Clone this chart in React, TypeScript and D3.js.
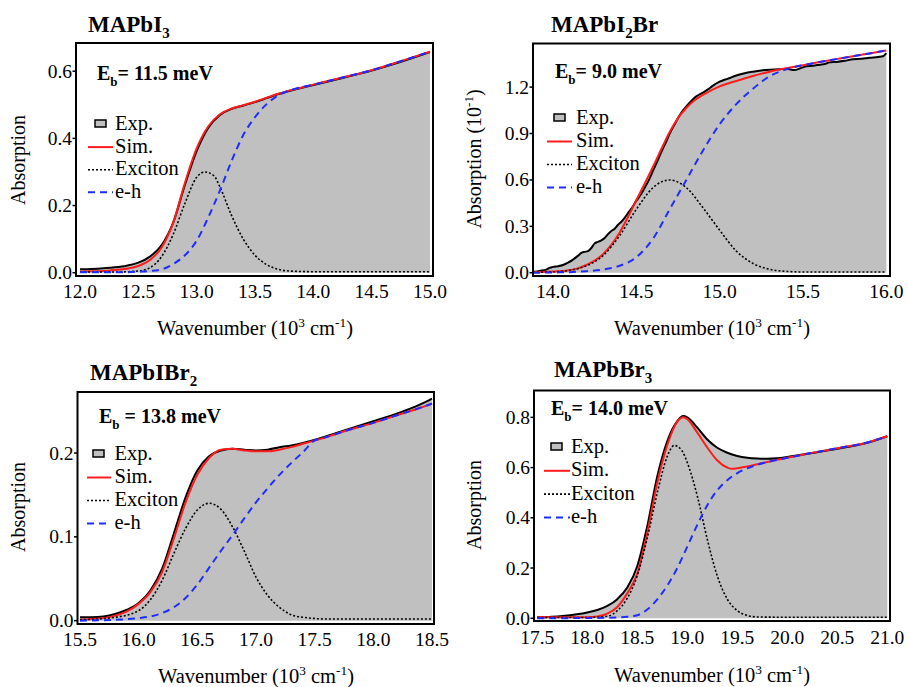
import React from "react";
import * as d3 from "d3";

type Pt = [number, number];

// ---- MAPbI3 ----
const mapbi3Exp: Pt[] = [[12.0,0.010],[12.1,0.011],[12.2,0.013],[12.3,0.016],[12.4,0.021],[12.5,0.030],[12.6,0.048],[12.7,0.082],[12.8,0.150],[12.9,0.262],[13.0,0.362],[13.1,0.432],[13.2,0.470],[13.3,0.488],[13.4,0.498],[13.5,0.508],[13.6,0.520],[13.7,0.532],[13.8,0.542],[14.0,0.559],[14.25,0.580],[14.5,0.602],[14.75,0.628],[15.0,0.657]];
const mapbi3Sim: Pt[] = [[12.0,0.003],[12.1,0.004],[12.2,0.005],[12.3,0.008],[12.4,0.012],[12.5,0.020],[12.6,0.038],[12.7,0.075],[12.8,0.150],[12.9,0.268],[13.0,0.370],[13.1,0.436],[13.2,0.472],[13.3,0.489],[13.4,0.499],[13.5,0.509],[13.6,0.521],[13.7,0.533],[13.8,0.543],[14.0,0.560],[14.25,0.581],[14.5,0.603],[14.75,0.630],[15.0,0.658]];
const mapbi3Exciton: Pt[] = [[12.0,0.002],[12.3,0.002],[12.5,0.005],[12.6,0.015],[12.7,0.048],[12.8,0.115],[12.9,0.207],[13.0,0.284],[13.07,0.300],[13.15,0.288],[13.2,0.255],[13.3,0.170],[13.4,0.100],[13.5,0.052],[13.6,0.024],[13.7,0.010],[13.8,0.005],[14.0,0.003],[15.0,0.003]];
const mapbi3Eh: Pt[] = [[12.0,0.001],[12.3,0.001],[12.5,0.003],[12.6,0.005],[12.7,0.010],[12.8,0.026],[12.9,0.052],[13.0,0.095],[13.1,0.165],[13.2,0.245],[13.3,0.333],[13.4,0.410],[13.5,0.463],[13.6,0.502],[13.7,0.528],[13.8,0.543],[14.0,0.560],[14.25,0.581],[14.5,0.603],[14.75,0.630],[15.0,0.658]];

// ---- MAPbI2Br (10^-1) ----
const mapbi2brExp: Pt[] = [[13.88,0.005],[13.92,0.012],[13.96,0.020],[13.98,0.032],[14.0,0.038],[14.03,0.042],[14.06,0.050],[14.09,0.065],[14.12,0.085],[14.15,0.110],[14.17,0.128],[14.19,0.135],[14.21,0.140],[14.23,0.160],[14.25,0.190],[14.27,0.200],[14.29,0.210],[14.31,0.225],[14.33,0.250],[14.35,0.270],[14.37,0.285],[14.39,0.310],[14.41,0.330],[14.43,0.355],[14.45,0.385],[14.48,0.430],[14.5,0.465],[14.53,0.510],[14.55,0.550],[14.58,0.610],[14.6,0.660],[14.63,0.730],[14.65,0.780],[14.68,0.850],[14.7,0.900],[14.73,0.960],[14.75,1.000],[14.78,1.050],[14.8,1.075],[14.83,1.110],[14.86,1.140],[14.9,1.165],[14.93,1.185],[14.96,1.210],[15.0,1.235],[15.05,1.255],[15.1,1.275],[15.15,1.290],[15.2,1.300],[15.25,1.308],[15.3,1.313],[15.35,1.315],[15.4,1.318],[15.45,1.310],[15.48,1.320],[15.52,1.335],[15.56,1.338],[15.6,1.345],[15.63,1.350],[15.66,1.360],[15.7,1.363],[15.75,1.370],[15.8,1.380],[15.85,1.383],[15.9,1.390],[15.95,1.395],[15.98,1.400],[16.0,1.420]];
const mapbi2brSim: Pt[] = [[13.88,0.005],[14.0,0.008],[14.1,0.016],[14.15,0.028],[14.2,0.050],[14.25,0.078],[14.3,0.120],[14.35,0.180],[14.4,0.260],[14.45,0.360],[14.5,0.470],[14.55,0.575],[14.6,0.685],[14.65,0.800],[14.7,0.910],[14.75,1.000],[14.8,1.065],[14.85,1.115],[14.9,1.150],[15.0,1.205],[15.1,1.240],[15.2,1.272],[15.3,1.300],[15.4,1.322],[15.5,1.342],[15.6,1.362],[15.7,1.381],[15.8,1.400],[15.9,1.418],[16.0,1.437]];
const mapbi2brExciton: Pt[] = [[13.88,0.003],[14.0,0.006],[14.1,0.016],[14.2,0.045],[14.3,0.110],[14.4,0.240],[14.5,0.410],[14.6,0.550],[14.7,0.600],[14.8,0.550],[14.9,0.420],[15.0,0.275],[15.1,0.140],[15.2,0.060],[15.3,0.022],[15.4,0.009],[15.5,0.005],[16.0,0.005]];
const mapbi2brEh: Pt[] = [[13.88,0.0],[14.0,0.002],[14.1,0.004],[14.2,0.010],[14.3,0.020],[14.4,0.045],[14.5,0.100],[14.6,0.220],[14.7,0.410],[14.8,0.600],[14.9,0.790],[15.0,0.960],[15.1,1.090],[15.2,1.190],[15.3,1.270],[15.4,1.315],[15.5,1.342],[15.6,1.362],[15.7,1.381],[15.8,1.400],[15.9,1.418],[16.0,1.437]];

// ---- MAPbIBr2 ----
const mapbibr2Exp: Pt[] = [[15.5,0.004],[15.6,0.004],[15.7,0.005],[15.8,0.008],[15.9,0.013],[16.0,0.021],[16.1,0.036],[16.2,0.062],[16.3,0.104],[16.4,0.147],[16.5,0.179],[16.6,0.196],[16.7,0.203],[16.8,0.205],[16.9,0.204],[17.0,0.203],[17.1,0.204],[17.2,0.207],[17.3,0.209],[17.4,0.212],[17.6,0.220],[17.8,0.229],[18.0,0.238],[18.2,0.247],[18.4,0.258],[18.5,0.265]];
const mapbibr2Sim: Pt[] = [[15.5,0.001],[15.6,0.002],[15.7,0.003],[15.8,0.006],[15.9,0.011],[16.0,0.020],[16.1,0.034],[16.2,0.058],[16.3,0.098],[16.4,0.141],[16.5,0.174],[16.6,0.194],[16.7,0.204],[16.8,0.205],[16.9,0.203],[17.0,0.202],[17.1,0.202],[17.2,0.204],[17.3,0.207],[17.4,0.211],[17.6,0.219],[17.8,0.228],[18.0,0.236],[18.2,0.245],[18.4,0.254],[18.5,0.259]];
const mapbibr2Exciton: Pt[] = [[15.5,0.001],[15.8,0.004],[16.0,0.012],[16.1,0.025],[16.2,0.048],[16.3,0.080],[16.4,0.110],[16.5,0.132],[16.6,0.140],[16.7,0.133],[16.8,0.112],[16.9,0.083],[17.0,0.052],[17.1,0.030],[17.2,0.016],[17.3,0.007],[17.4,0.004],[17.6,0.002],[18.5,0.002]];
const mapbibr2Eh: Pt[] = [[15.5,0.0],[15.8,0.001],[16.0,0.003],[16.1,0.005],[16.2,0.009],[16.3,0.016],[16.4,0.027],[16.5,0.043],[16.6,0.063],[16.7,0.083],[16.8,0.102],[16.9,0.122],[17.0,0.141],[17.1,0.158],[17.2,0.174],[17.3,0.188],[17.4,0.201],[17.5,0.215],[17.6,0.219],[17.8,0.228],[18.0,0.236],[18.2,0.245],[18.4,0.254],[18.5,0.259]];

// ---- MAPbBr3 ----
const mapbbr3Exp: Pt[] = [[17.5,0.003],[17.75,0.009],[18.0,0.023],[18.1,0.033],[18.2,0.049],[18.3,0.076],[18.4,0.122],[18.5,0.208],[18.6,0.367],[18.7,0.566],[18.8,0.706],[18.9,0.785],[18.96,0.805],[19.0,0.800],[19.1,0.759],[19.2,0.712],[19.3,0.679],[19.4,0.659],[19.5,0.646],[19.6,0.639],[19.7,0.636],[19.8,0.635],[19.9,0.637],[20.0,0.642],[20.2,0.655],[20.5,0.675],[20.8,0.699],[21.0,0.725]];
const mapbbr3Sim: Pt[] = [[17.5,0.005],[17.75,0.004],[18.0,0.004],[18.1,0.007],[18.2,0.018],[18.3,0.045],[18.4,0.100],[18.5,0.178],[18.6,0.340],[18.7,0.540],[18.8,0.690],[18.9,0.783],[18.96,0.800],[19.0,0.793],[19.1,0.739],[19.2,0.680],[19.3,0.628],[19.4,0.600],[19.45,0.595],[19.5,0.597],[19.6,0.604],[19.7,0.613],[19.8,0.622],[19.9,0.631],[20.0,0.639],[20.2,0.655],[20.5,0.677],[20.8,0.700],[21.0,0.725]];
const mapbbr3Exciton: Pt[] = [[17.5,0.003],[18.0,0.003],[18.2,0.008],[18.3,0.030],[18.4,0.080],[18.5,0.170],[18.6,0.320],[18.7,0.500],[18.8,0.645],[18.87,0.688],[18.95,0.665],[19.0,0.620],[19.1,0.487],[19.2,0.314],[19.3,0.168],[19.4,0.076],[19.5,0.030],[19.6,0.011],[19.7,0.005],[20.0,0.004],[21.0,0.004]];
const mapbbr3Eh: Pt[] = [[17.5,0.0],[18.0,0.001],[18.2,0.002],[18.4,0.006],[18.5,0.012],[18.6,0.035],[18.7,0.075],[18.8,0.130],[18.9,0.200],[19.0,0.285],[19.1,0.372],[19.2,0.450],[19.3,0.510],[19.4,0.550],[19.5,0.578],[19.6,0.597],[19.7,0.611],[19.8,0.622],[19.9,0.631],[20.0,0.639],[20.2,0.655],[20.5,0.677],[20.8,0.700],[21.0,0.725]];

// tick values
const ticksX1 = [12.0, 12.5, 13.0, 13.5, 14.0, 14.5, 15.0];
const ticksY1 = [0, 0.2, 0.4, 0.6];
const ticksX2 = [14.0, 14.5, 15.0, 15.5, 16.0];
const ticksY2 = [0, 0.3, 0.6, 0.9, 1.2];
const ticksX3 = [15.5, 16.0, 16.5, 17.0, 17.5, 18.0, 18.5];
const ticksY3 = [0, 0.1, 0.2];
const ticksX4 = [17.5, 18.0, 18.5, 19.0, 19.5, 20.0, 20.5, 21.0];
const ticksY4 = [0, 0.2, 0.4, 0.6, 0.8];

const legendLabels = ["Exp.", "Sim.", "Exciton", "e-h"];

const FONT = "'Liberation Serif', 'Times New Roman', serif";
const GRAY = "#c0c0c0";
const RED = "#ff1c1c";
const BLUE = "#1f2cff";

const sub = (t: string) => ({ t, kind: "sub" });
const sup = (t: string) => ({ t, kind: "sup" });

// renders runs of text with sub/superscripts as tspans
const Rich = ({ parts, size }: { parts: any[]; size: number }) => {
  let shift = 0;
  const out: any[] = [];
  parts.forEach((p, i) => {
    if (typeof p === "string") {
      out.push(<tspan key={i} dy={-shift}>{p}</tspan>);
      shift = 0;
    } else {
      const s = p.kind === "sub" ? size * 0.28 : -size * 0.38;
      out.push(
        <tspan key={i} dy={s - shift} fontSize={size * 0.65}>{p.t}</tspan>
      );
      shift = s;
    }
  });
  return <>{out}</>;
};

const panels = [
  {
    id: "p1",
    frame: { left: 76, top: 43, right: 433, bottom: 276 },
    xDomain: [11.966, 15.026], yDomain: [-0.0098, 0.684],
    xTicks: ticksX1, yTicks: ticksY1, yFmt: ".1f",
    exp: mapbi3Exp, sim: mapbi3Sim, exciton: mapbi3Exciton, eh: mapbi3Eh,
    title: ["MAPbI", sub("3")], titlePos: [88, 32],
    eb: ["E", sub("b"), "= 11.5 meV"], ebPos: [97, 80],
    legend: { box: 95, text: 115, l0: 88, l1: 113, y0: 130, dy: 22.6 },
    yLabel: ["Absorption"], yLabelPos: [25, 160],
    xLabelPos: [255, 335], tickBase: 298,
  },
  {
    id: "p2",
    frame: { left: 533, top: 43.5, right: 890, bottom: 276 },
    xDomain: [13.88, 16.022], yDomain: [-0.021, 1.482],
    xTicks: ticksX2, yTicks: ticksY2, yFmt: ".1f",
    exp: mapbi2brExp, sim: mapbi2brSim, exciton: mapbi2brExciton, eh: mapbi2brEh,
    title: ["MAPbI", sub("2"), "Br"], titlePos: [551, 32],
    eb: ["E", sub("b"), "= 9.0 meV"], ebPos: [555, 78],
    legend: { box: 554, text: 576, l0: 547, l1: 572, y0: 124, dy: 23 },
    yLabel: ["Absorption (10", sup("-1"), ")"], yLabelPos: [481, 159],
    xLabelPos: [712, 335], tickBase: 298,
  },
  {
    id: "p3",
    frame: { left: 77.5, top: 392, right: 434, bottom: 624 },
    xDomain: [15.479, 18.517], yDomain: [-0.004, 0.2728],
    xTicks: ticksX3, yTicks: ticksY3, yFmt: ".1f",
    exp: mapbibr2Exp, sim: mapbibr2Sim, exciton: mapbibr2Exciton, eh: mapbibr2Eh,
    title: ["MAPbIBr", sub("2")], titlePos: [90, 380],
    eb: ["E", sub("b"), " = 13.8 meV"], ebPos: [99, 423],
    legend: { box: 93, text: 114.5, l0: 87, l1: 111, y0: 460, dy: 23 },
    yLabel: ["Absorption"], yLabelPos: [25, 507],
    xLabelPos: [256, 683], tickBase: 646,
  },
  {
    id: "p4",
    frame: { left: 534, top: 390.5, right: 890, bottom: 621 },
    xDomain: [17.467, 21.027], yDomain: [-0.011, 0.907],
    xTicks: ticksX4, yTicks: ticksY4, yFmt: ".1f",
    exp: mapbbr3Exp, sim: mapbbr3Sim, exciton: mapbbr3Exciton, eh: mapbbr3Eh,
    title: ["MAPbBr", sub("3")], titlePos: [554, 377],
    eb: ["E", sub("b"), "= 14.0 meV"], ebPos: [551, 415],
    legend: { box: 551, text: 571, l0: 544, l1: 570, y0: 453, dy: 23.3 },
    yLabel: ["Absorption"], yLabelPos: [481, 505],
    xLabelPos: [712, 682], tickBase: 644,
  },
];

const Panel = ({ p }: { p: any }) => {
  const { left, top, right, bottom } = p.frame;
  const x = d3.scaleLinear().domain(p.xDomain).range([left, right]);
  const y = d3.scaleLinear().domain(p.yDomain).range([bottom, top]);
  const line = d3.line<Pt>().x(d => x(d[0])).y(d => y(d[1])).curve(d3.curveMonotoneX);
  const area = d3.area<Pt>().x(d => x(d[0])).y0(y(0)).y1(d => y(d[1])).curve(d3.curveMonotoneX);
  const fmt = d3.format(p.yFmt);
  const lg = p.legend;

  return (
    <g fontFamily={FONT}>
      <defs>
        <clipPath id={"clip-" + p.id}>
          <rect x={left} y={top} width={right - left} height={bottom - top} />
        </clipPath>
      </defs>
      <g clipPath={`url(#clip-${p.id})`}>
        <path d={area(p.exp) || ""} fill={GRAY} />
        <path d={line(p.exp) || ""} fill="none" stroke="#000" strokeWidth={2} />
        <path d={line(p.sim) || ""} fill="none" stroke={RED} strokeWidth={2} />
        <path d={line(p.exciton) || ""} fill="none" stroke="#000" strokeWidth={1.6} strokeDasharray="2,2" />
        <path d={line(p.eh) || ""} fill="none" stroke={BLUE} strokeWidth={2} strokeDasharray="7,5" />
      </g>
      <rect x={left} y={top} width={right - left} height={bottom - top} fill="none" stroke="#000" strokeWidth={2} />

      {p.yTicks.map((t: number) => (
        <g key={"y" + t}>
          <line x1={left - 3.5} x2={left} y1={y(t)} y2={y(t)} stroke="#000" strokeWidth={1.5} />
          <text x={left - 4} y={y(t) + 6.5} textAnchor="end" fontSize={19.5}>{fmt(t)}</text>
        </g>
      ))}
      {p.xTicks.map((t: number) => (
        <text key={"x" + t} x={x(t)} y={p.tickBase} textAnchor="middle" fontSize={19.5}>{t.toFixed(1)}</text>
      ))}

      <text x={p.titlePos[0]} y={p.titlePos[1]} fontSize={23} fontWeight="bold">
        <Rich parts={p.title} size={23} />
      </text>
      <text x={p.ebPos[0]} y={p.ebPos[1]} fontSize={20} fontWeight="bold">
        <Rich parts={p.eb} size={20} />
      </text>

      <text transform={`translate(${p.yLabelPos[0]},${p.yLabelPos[1]}) rotate(-90)`} textAnchor="middle" fontSize={20}>
        <Rich parts={p.yLabel} size={20} />
      </text>
      <text x={p.xLabelPos[0]} y={p.xLabelPos[1]} textAnchor="middle" fontSize={20.5}>
        <Rich parts={["Wavenumber (10", sup("3"), " cm", sup("-1"), ")"]} size={20.5} />
      </text>

      {legendLabels.map((lab, i) => {
        const by = lg.y0 + i * lg.dy;
        return (
          <g key={lab}>
            {i === 0 && (
              <rect x={lg.box} y={by - 10} width={11} height={7} fill={GRAY} stroke="#000" strokeWidth={1.5} />
            )}
            {i === 1 && <line x1={lg.l0} x2={lg.l1} y1={by - 5.5} y2={by - 5.5} stroke={RED} strokeWidth={2} />}
            {i === 2 && <line x1={lg.l0} x2={lg.l1} y1={by - 5.5} y2={by - 5.5} stroke="#000" strokeWidth={1.6} strokeDasharray="2,2" />}
            {i === 3 && <line x1={lg.l0} x2={lg.l1} y1={by - 5.5} y2={by - 5.5} stroke={BLUE} strokeWidth={2} strokeDasharray="7,5" />}
            <text x={lg.text} y={by} fontSize={20.5}>{lab}</text>
          </g>
        );
      })}
    </g>
  );
};

export default function App() {
  return (
    <svg width={908} height={687} style={{ position: "absolute", left: 0, top: 0, background: "#fff" }}>
      {panels.map(p => <Panel key={p.id} p={p} />)}
    </svg>
  );
}
